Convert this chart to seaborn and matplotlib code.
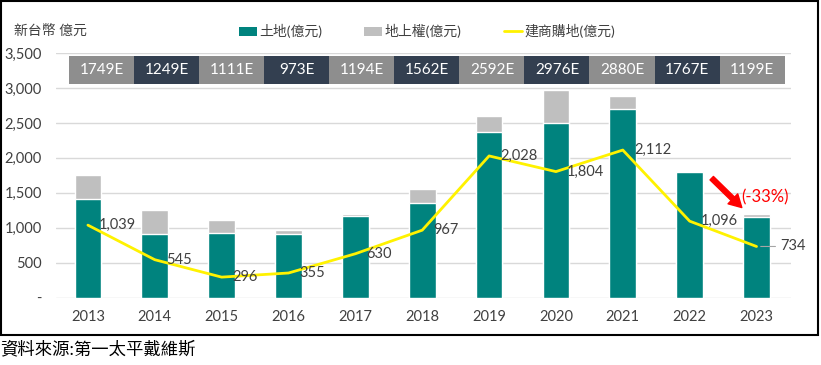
import numpy as np
import pandas as pd
import matplotlib
matplotlib.use('Agg')
import matplotlib.pyplot as plt
from matplotlib.patches import Rectangle, Patch
from matplotlib.lines import Line2D
import matplotlib.ticker as mticker
import seaborn as sns

# 資料
years = ['2013', '2014', '2015', '2016', '2017', '2018', '2019', '2020', '2021', '2022', '2023']
land = [1410, 914, 929, 914, 1171, 1357, 2371, 2500, 2700, 1800, 1150]
superficies = [339, 335, 182, 59, 23, 205, 221, 476, 180, 15, 49]
builder = [1039, 545, 296, 355, 630, 967, 2028, 1804, 2112, 1096, 734]
totals_label = ['1749E', '1249E', '1111E', '973E', '1194E', '1562E',
                '2592E', '2976E', '2880E', '1767E', '1199E']

teal = '#00837E'
grey_bar = '#BFBFBF'
yellow = '#FFF200'
box_grey = '#8E8E8E'
box_navy = '#333F50'
txt = '#404040'

sns.set_theme(style='white')
plt.rcParams['font.family'] = ['Lato', 'Noto Sans CJK TC', 'DejaVu Sans']
plt.rcParams['axes.unicode_minus'] = False

df = pd.DataFrame({'year': years, 'land': land, 'sup': superficies, 'builder': builder})
df['total'] = df['land'] + df['sup']
df['pos'] = np.arange(len(years))

fig = plt.figure(figsize=(8.21, 3.65), dpi=100)
ax = fig.add_axes([0.068, 0.184, 0.895, 0.671])

# 堆疊柱狀：先畫總額（灰），再畫土地（綠）覆蓋
sns.barplot(data=df, x='year', y='total', color=grey_bar, saturation=1, width=0.4, ax=ax)
sns.barplot(data=df, x='year', y='land', color=teal, saturation=1, width=0.4, ax=ax)
sns.lineplot(x=df['pos'], y=df['builder'], color=yellow, linewidth=2, ax=ax, zorder=4)

# 折線資料標籤
for i, v in enumerate(builder):
    if i == len(builder) - 1:
        ax.annotate(f'{v:,}', xy=(i, v), xytext=(17, 0), textcoords='offset points',
                    ha='left', va='center', fontsize=10.5, color=txt,
                    arrowprops=dict(arrowstyle='-', color='#A6A6A6', lw=0.8,
                                    shrinkA=1, shrinkB=3))
    else:
        ax.annotate(f'{v:,}', xy=(i, v), xytext=(8, 0), textcoords='offset points',
                    ha='left', va='center', fontsize=10.5, color=txt, zorder=5)

# 頂部總額標籤方塊
x0, x1 = -0.28, 10.42
w = (x1 - x0) / len(years)
for i, lab in enumerate(totals_label):
    c = box_grey if i % 2 == 0 else box_navy
    ax.add_patch(Rectangle((x0 + i * w, 3060), w, 400, facecolor=c, edgecolor='none', zorder=3))
    ax.text(x0 + (i + 0.5) * w, 3260, lab, ha='center', va='center',
            color='white', fontsize=11, zorder=4)

# 紅色箭頭與跌幅
ax.annotate('', xy=(9.78, 1290), xytext=(9.33, 1710),
            arrowprops=dict(facecolor='#FF0000', edgecolor='#FF0000',
                            width=3.5, headwidth=10, headlength=9))
ax.text(10.13, 1430, '(-33%)', ha='center', va='center', color='#FF0000', fontsize=12)

ax.set_xlim(-0.48, 10.51)
ax.set_ylim(0, 3500)
ax.set_yticks(np.arange(0, 3501, 500))
ax.yaxis.set_major_formatter(mticker.FuncFormatter(lambda v, p: '-' if v == 0 else f'{int(v):,}'))
ax.grid(axis='y', color='#D9D9D9', linewidth=1)
ax.set_axisbelow(True)
for s in ax.spines.values():
    s.set_visible(False)
ax.tick_params(axis='both', length=0, labelsize=10.5, labelcolor=txt)
ax.tick_params(axis='x', pad=9)
ax.tick_params(axis='y', pad=10)
ax.set_xlabel('')
ax.set_ylabel('')

fig.text(0.017, 0.918, '新台幣 億元', ha='left', va='center', fontsize=10, color=txt)

handles = [Patch(facecolor=teal, edgecolor='none'),
           Patch(facecolor=grey_bar, edgecolor='none'),
           Line2D([0], [0], color=yellow, lw=2)]
fig.legend(handles, ['土地(億元)', '地上權(億元)', '建商購地(億元)'],
           loc='center', bbox_to_anchor=(0.52, 0.915), ncol=3, frameon=False,
           fontsize=10, labelcolor=txt, handlelength=1.3, handleheight=0.6,
           handletextpad=0.2, columnspacing=3.0)

# 外框與資料來源
fig.add_artist(Rectangle((0.001, 0.082), 0.995, 0.916, transform=fig.transFigure,
                         fill=False, edgecolor='black', linewidth=1.5))
fig.text(0.0, 0.045, '資料來源:第一太平戴維斯', ha='left', va='center',
         fontsize=12.5, color='black')

fig.savefig('out.png', dpi=100)
